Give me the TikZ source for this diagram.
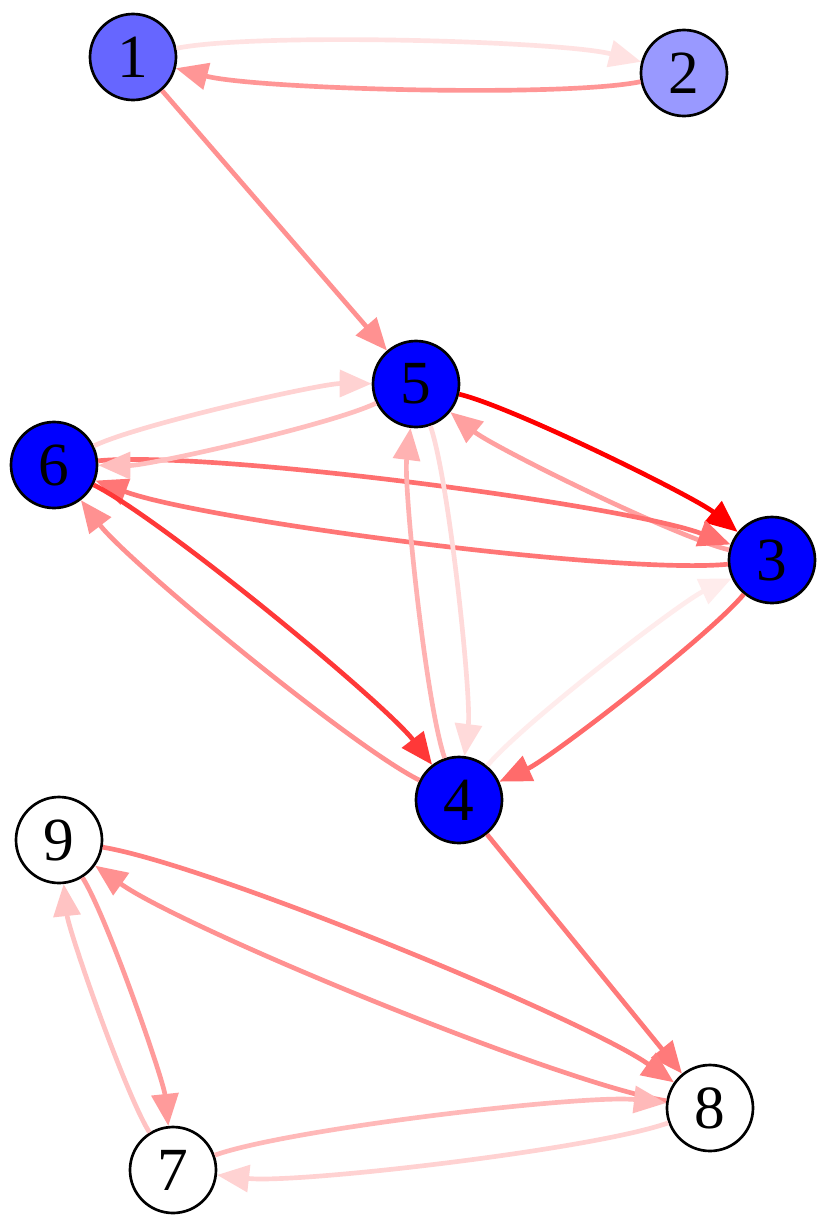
\documentclass[tikz,border=0pt]{standalone}
\usepackage{fontspec}
\setmainfont{Liberation Serif}
\usetikzlibrary{arrows.meta}
\definecolor{nA}{HTML}{6666FF}
\definecolor{nB}{HTML}{9999FF}
\definecolor{nC}{HTML}{0000FF}
\begin{document}
\begin{tikzpicture}[x=0.75pt,y=-0.75pt,
  vtx/.style={circle,draw=black,line width=2pt,minimum size=64.5pt,inner sep=0pt,font=\fontsize{46}{46}\selectfont},
  edge/.style={line width=3.5pt,-{Triangle[length=24pt,width=20pt]}},
  bl/.style={bend left=13,looseness=0.45}]
\fill[white] (0,0) rectangle (830,1229);
\useasboundingbox (0,0) rectangle (830,1229);
\begin{scope}[every node/.style={vtx}]
\node[fill=nA] (n1) at (133,57) {1};
\node[fill=nB] (n2) at (684,73) {2};
\node[fill=nC] (n5) at (416,384) {5};
\node[fill=nC] (n6) at (54,465) {6};
\node[fill=nC] (n3) at (772,560) {3};
\node[fill=nC] (n4) at (459,800) {4};
\node[fill=white] (n9) at (59,840) {9};
\node[fill=white] (n8) at (710,1108) {8};
\node[fill=white] (n7) at (173,1170) {7};
\end{scope}
\draw[edge,color={rgb,255:red,255;green,226;blue,226}] (n1) to[bl] (n2);
\draw[edge,color={rgb,255:red,255;green,150;blue,150}] (n2) to[bl] (n1);
\draw[edge,color={rgb,255:red,255;green,145;blue,145}] (n1) -- (n5);
\draw[edge,color={rgb,255:red,255;green,0;blue,0}] (n5) to[bl] (n3);
\draw[edge,color={rgb,255:red,255;green,160;blue,160}] (n3) to[bl] (n5);
\draw[edge,color={rgb,255:red,255;green,112;blue,112}] (n6) to[bl] (n3);
\draw[edge,color={rgb,255:red,255;green,118;blue,118}] (n3) to[bl] (n6);
\draw[edge,color={rgb,255:red,255;green,190;blue,190}] (n5) to[bl] (n6);
\draw[edge,color={rgb,255:red,255;green,210;blue,210}] (n6) to[bl] (n5);
\draw[edge,color={rgb,255:red,255;green,56;blue,56}] (n6) to[bl] (n4);
\draw[edge,color={rgb,255:red,255;green,145;blue,145}] (n4) to[bl] (n6);
\draw[edge,color={rgb,255:red,255;green,178;blue,178}] (n4) to[bl] (n5);
\draw[edge,color={rgb,255:red,255;green,218;blue,218}] (n5) to[bl] (n4);
\draw[edge,color={rgb,255:red,255;green,236;blue,236}] (n4) to[bl] (n3);
\draw[edge,color={rgb,255:red,255;green,107;blue,107}] (n3) to[bl] (n4);
\draw[edge,color={rgb,255:red,255;green,122;blue,122}] (n4) -- (n8);
\draw[edge,color={rgb,255:red,255;green,128;blue,128}] (n9) to[bl] (n8);
\draw[edge,color={rgb,255:red,255;green,145;blue,145}] (n8) to[bl] (n9);
\draw[edge,color={rgb,255:red,255;green,155;blue,155}] (n9) to[bl] (n7);
\draw[edge,color={rgb,255:red,255;green,195;blue,195}] (n7) to[bl] (n9);
\draw[edge,color={rgb,255:red,255;green,185;blue,185}] (n7) to[bl] (n8);
\draw[edge,color={rgb,255:red,255;green,210;blue,210}] (n8) to[bl] (n7);
\end{tikzpicture}
\end{document}
